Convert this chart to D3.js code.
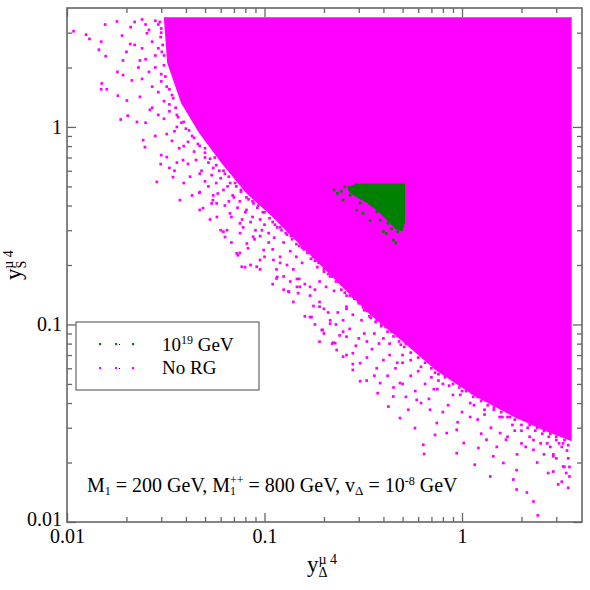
<!DOCTYPE html>
<html>
<head>
<meta charset="utf-8">
<script src="https://cdn.jsdelivr.net/npm/d3@7"></script>
<style>
  body { margin: 0; background: #fff; }
  text { font-family: "Liberation Serif", "Times New Roman", serif; fill: #000; }
</style>
</head>
<body>
<div id="chart"></div>
<script>
// ---- data ----
const majorTicks = [0.01, 0.1, 1];
const minorTicks = [0.02, 0.03, 0.04, 0.05, 0.06, 0.07, 0.08, 0.09,
                    0.2, 0.3, 0.4, 0.5, 0.6, 0.7, 0.8, 0.9, 2, 3];

// outline of the area that is (almost) completely covered by "No RG" points
const noRgRegion = [
  [0.0313, 3.55], [0.0325, 2.12], [0.0382, 1.33], [0.0471, 0.937], [0.061, 0.661],
  [0.0815, 0.466], [0.109, 0.358], [0.146, 0.267], [0.195, 0.2], [0.262, 0.149],
  [0.35, 0.1117], [0.497, 0.0836], [0.747, 0.0589], [1.16, 0.044], [1.79, 0.0349],
  [2.63, 0.0293], [3.55, 0.0261], [3.55, 3.55]
];

// individual "No RG" points outside that area
const noRgPoints = [
  [0.0108, 3.05], [0.0125, 2.93], [0.013, 2.79], [0.0156, 3.3], [0.0149, 2.7],
  [0.0145, 2.46], [0.0157, 2.28], [0.0149, 1.55], [0.0159, 1.55], [0.015, 1.66],
  [0.0187, 1.09], [0.0179, 3.42], [0.0285, 0.527], [0.0298, 0.648], [0.0248, 0.79],
  [0.0203, 1.14], [0.0226, 1.06], [0.0192, 1.83], [0.0201, 1.36], [0.0181, 1.44],
  [0.0213, 1.72], [0.0234, 2.17], [0.0209, 2.63], [0.0254, 2.98], [0.0192, 2.17],
  [0.0234, 1.42], [0.0263, 1.22], [0.0243, 0.857], [0.0344, 0.557], [0.0387, 0.679],
  [0.032, 0.703], [0.0373, 0.426], [0.0471, 0.468], [0.0488, 0.388], [0.0548, 0.426],
  [0.0574, 0.35], [0.0646, 0.3], [0.0631, 0.277], [0.0752, 0.29], [0.0734, 0.224],
  [0.0825, 0.243], [0.0797, 0.195], [0.0949, 0.212], [0.116, 0.174], [0.133, 0.146],
  [0.146, 0.155], [0.0468, 0.464], [0.054, 0.41], [0.0619, 0.295], [0.0723, 0.229],
  [0.0767, 0.196], [0.0913, 0.196], [0.115, 0.171], [0.132, 0.147], [0.148, 0.144],
  [0.17, 0.109], [0.195, 0.0938], [0.228, 0.0804], [0.232, 0.0743], [0.305, 0.0637],
  [0.177, 0.124], [0.146, 0.17], [0.099, 0.238], [0.0876, 0.278], [0.0751, 0.325],
  [0.0669, 0.365], [0.0572, 0.41], [0.0814, 0.257], [0.111, 0.212], [0.125, 0.175],
  [0.151, 0.155], [0.19, 0.123], [0.215, 0.101], [0.26, 0.0867], [0.28, 0.0715],
  [0.173, 0.109], [0.197, 0.0938], [0.223, 0.0809], [0.25, 0.092], [0.329, 0.052],
  [0.374, 0.0449], [0.424, 0.0384], [0.485, 0.0336], [0.535, 0.037], [0.578, 0.0299],
  [0.637, 0.0246], [0.643, 0.0221], [0.73, 0.0276], [0.94, 0.0223], [1.16, 0.0195],
  [1.21, 0.0237], [1.62, 0.0199], [1.82, 0.0164], [1.89, 0.0146], [2.13, 0.0141],
  [2.3, 0.0127], [2.42, 0.0108], [3.07, 0.0155], [3.45, 0.0149], [3.25, 0.0191],
  [2.73, 0.0177], [1.89, 0.0183], [1.44, 0.0215], [1.02, 0.0251], [0.836, 0.0282],
  [0.94, 0.0293], [1.33, 0.0261], [1.67, 0.0261], [2.3, 0.0232], [2.9, 0.0215],
  [3.37, 0.0177], [1.39, 0.017], [1.56, 0.0282], [0.385, 0.0505], [0.449, 0.0432],
  [0.485, 0.0505], [0.59, 0.0415], [0.689, 0.037], [0.745, 0.0317], [0.305, 0.0516],
  [0.28, 0.0589], [0.25, 0.0687], [0.19, 0.0818], [0.215, 0.105], [0.26, 0.123],
  [0.022, 3.4], [0.025, 3.3], [0.028, 3.45], [0.024, 2.5], [0.028, 2.3],
  [0.026, 1.9], [0.03, 1.7], [0.023, 2.0], [0.029, 1.5], [0.033, 1.3],
  [0.027, 1.25], [0.031, 1.1], [0.036, 1.0], [0.034, 0.85], [0.039, 0.8],
  [0.044, 0.75], [0.05, 0.7], [0.041, 0.65], [0.055, 0.62], [0.047, 0.58],
  [0.06, 0.55], [0.052, 0.5], [0.065, 0.5], [0.058, 0.46], [0.07, 0.44],
  [0.063, 0.4], [0.075, 0.42], [0.08, 0.37], [0.068, 0.35], [0.085, 0.33],
  [0.09, 0.3], [0.078, 0.31], [0.095, 0.28], [0.1, 0.32], [0.105, 0.26],
  [0.11, 0.24], [0.12, 0.22], [0.1, 0.22], [0.13, 0.2], [0.14, 0.19],
  [0.115, 0.19], [0.15, 0.17], [0.16, 0.16], [0.135, 0.165], [0.17, 0.14],
  [0.18, 0.15], [0.19, 0.13], [0.2, 0.12], [0.21, 0.115], [0.23, 0.1],
  [0.25, 0.105], [0.27, 0.095], [0.24, 0.088], [0.3, 0.085], [0.32, 0.09],
  [0.29, 0.078], [0.35, 0.075], [0.38, 0.08], [0.33, 0.068], [0.4, 0.066],
  [0.43, 0.07], [0.37, 0.06], [0.46, 0.06], [0.5, 0.064], [0.42, 0.055],
  [0.55, 0.055], [0.6, 0.058], [0.5, 0.05], [0.65, 0.05], [0.7, 0.054],
  [0.58, 0.046], [0.75, 0.047], [0.8, 0.05], [0.68, 0.042], [0.9, 0.044],
  [1.0, 0.046], [0.85, 0.039], [1.1, 0.04], [1.2, 0.043], [1.0, 0.036],
  [1.3, 0.037], [1.45, 0.038], [1.2, 0.033], [1.6, 0.034], [1.8, 0.031],
  [1.4, 0.03], [2.0, 0.029], [2.2, 0.027], [1.7, 0.027], [2.5, 0.025],
  [2.8, 0.024], [3.1, 0.025], [3.4, 0.023], [2.1, 0.024], [2.6, 0.022],
  [3.0, 0.021], [3.3, 0.019], [2.4, 0.02], [1.9, 0.022], [3.5, 0.017],
  [2.9, 0.018], [3.2, 0.016], [1.5, 0.024], [1.25, 0.028], [0.95, 0.032],
  [0.8, 0.036], [0.62, 0.04], [0.52, 0.043], [0.45, 0.048], [0.36, 0.055],
  [0.28, 0.063], [0.26, 0.07], [0.22, 0.08], [0.2, 0.09], [0.18, 0.1],
  [0.16, 0.11], [0.14, 0.13], [0.125, 0.15], [0.11, 0.16], [0.095, 0.19],
  [0.085, 0.2], [0.075, 0.23], [0.068, 0.26], [0.06, 0.3], [0.053, 0.34],
  [0.047, 0.38], [0.043, 0.45], [0.039, 0.52], [0.035, 0.6], [0.03, 0.72],
  [0.028, 0.9], [0.025, 1.05],
  [0.021, 3.2], [0.024, 3.5], [0.026, 3.1], [0.029, 3.3], [0.03, 3.0],
  [0.027, 2.7], [0.029, 2.5], [0.025, 2.2], [0.031, 2.3], [0.028, 2.0],
  [0.03, 1.85], [0.032, 1.6], [0.034, 1.45], [0.027, 1.6], [0.031, 1.35],
  [0.024, 1.75], [0.022, 2.6], [0.019, 2.9], [0.02, 2.4], [0.018, 1.9],
  [0.033, 1.2], [0.036, 1.15], [0.038, 1.05], [0.029, 1.15], [0.035, 0.95],
  [0.04, 0.98], [0.043, 0.9], [0.032, 0.92], [0.037, 0.78], [0.041, 0.84],
  [0.046, 0.82], [0.05, 0.78], [0.045, 0.68], [0.052, 0.66], [0.056, 0.7],
  [0.048, 0.6], [0.042, 0.56], [0.036, 0.66], [0.033, 0.62], [0.054, 0.57],
  [0.059, 0.6], [0.063, 0.58], [0.067, 0.52], [0.072, 0.5], [0.062, 0.48],
  [0.057, 0.52], [0.05, 0.53], [0.076, 0.47], [0.069, 0.45], [0.055, 0.45],
  [0.083, 0.43], [0.088, 0.41], [0.092, 0.39], [0.098, 0.37], [0.081, 0.38],
  [0.073, 0.39], [0.066, 0.42], [0.087, 0.35], [0.077, 0.34], [0.095, 0.34],
  [0.11, 0.33], [0.116, 0.31], [0.122, 0.3], [0.13, 0.285], [0.105, 0.29],
  [0.097, 0.3], [0.112, 0.275], [0.125, 0.26], [0.089, 0.27], [0.138, 0.27],
  [0.15, 0.25], [0.158, 0.24], [0.165, 0.23], [0.172, 0.215], [0.18, 0.21],
  [0.145, 0.22], [0.135, 0.235], [0.155, 0.205], [0.12, 0.205], [0.185, 0.195],
  [0.2, 0.19], [0.21, 0.18], [0.22, 0.175], [0.235, 0.165], [0.245, 0.16],
  [0.19, 0.165], [0.205, 0.155], [0.225, 0.148], [0.17, 0.155], [0.255, 0.145],
  [0.27, 0.14], [0.285, 0.135], [0.3, 0.128], [0.315, 0.122], [0.33, 0.117],
  [0.26, 0.12], [0.28, 0.112], [0.31, 0.105], [0.235, 0.115], [0.345, 0.108],
  [0.37, 0.105], [0.39, 0.1], [0.41, 0.097], [0.44, 0.092], [0.47, 0.088],
  [0.36, 0.09], [0.4, 0.085], [0.43, 0.08], [0.33, 0.082], [0.49, 0.079],
  [0.52, 0.08], [0.56, 0.077], [0.6, 0.072], [0.64, 0.068], [0.7, 0.063],
  [0.5, 0.07], [0.55, 0.066], [0.62, 0.061], [0.47, 0.064], [0.73, 0.057],
  [0.78, 0.058], [0.83, 0.056], [0.88, 0.054], [0.95, 0.051], [1.05, 0.048],
  [0.76, 0.052], [0.86, 0.049], [0.98, 0.044], [0.72, 0.047], [1.12, 0.045],
  [1.2, 0.045], [1.28, 0.043], [1.38, 0.041], [1.5, 0.04], [1.65, 0.037],
  [1.15, 0.039], [1.3, 0.035], [1.55, 0.034], [1.1, 0.034], [1.75, 0.034],
  [1.9, 0.034], [2.05, 0.033], [2.2, 0.031], [2.4, 0.03], [2.6, 0.029],
  [2.8, 0.028], [3.0, 0.027], [3.3, 0.026], [1.85, 0.029], [2.3, 0.026],
  [2.7, 0.025], [3.2, 0.024], [3.45, 0.021], [2.0, 0.025], [2.9, 0.022],
  [3.5, 0.019],
  [0.0295, 3.4], [0.03, 3.15], [0.0298, 2.85], [0.0305, 2.6], [0.0302, 2.4],
  [0.031, 2.05], [0.0315, 1.8], [0.033, 1.55], [0.0345, 1.4], [0.0355, 1.25],
  [0.0365, 1.12], [0.039, 1.06], [0.0415, 0.96], [0.044, 0.88], [0.047, 0.8],
  [0.05, 0.74], [0.053, 0.69], [0.057, 0.64], [0.062, 0.6], [0.066, 0.56],
  [0.071, 0.52], [0.076, 0.48], [0.081, 0.44], [0.087, 0.42], [0.093, 0.4],
  [0.1, 0.37], [0.106, 0.345], [0.113, 0.32], [0.12, 0.31], [0.128, 0.29],
  [0.136, 0.28], [0.145, 0.255], [0.155, 0.245], [0.165, 0.235], [0.176, 0.22],
  [0.188, 0.205], [0.2, 0.185], [0.215, 0.175], [0.23, 0.165], [0.245, 0.15],
  [0.26, 0.14], [0.28, 0.138], [0.3, 0.13], [0.32, 0.118], [0.34, 0.11],
  [0.365, 0.103], [0.39, 0.098], [0.42, 0.092], [0.45, 0.087], [0.48, 0.082],
  [0.51, 0.077], [0.55, 0.072], [0.6, 0.068], [0.65, 0.064], [0.7, 0.06],
  [0.76, 0.056], [0.82, 0.054], [0.9, 0.05], [0.97, 0.048], [1.05, 0.046],
  [1.14, 0.043], [1.25, 0.041], [1.35, 0.039], [1.45, 0.037], [1.58, 0.036],
  [1.7, 0.034], [1.85, 0.033], [2.0, 0.031], [2.15, 0.03], [2.35, 0.029],
  [2.55, 0.028], [2.75, 0.027], [3.0, 0.026], [3.25, 0.025], [3.45, 0.0245]
];

// outline of the dense "10^19 GeV" cluster
const rg19Region = [
  [0.305, 0.513], [0.51, 0.513], [0.51, 0.33], [0.497, 0.30], [0.463, 0.307],
  [0.422, 0.337], [0.376, 0.379], [0.33, 0.416], [0.297, 0.441], [0.271, 0.468],
  [0.265, 0.496]
];

const rg19Points = [
  [0.225, 0.479], [0.234, 0.461], [0.245, 0.473], [0.255, 0.497], [0.25, 0.426],
  [0.291, 0.51], [0.293, 0.379], [0.316, 0.365], [0.342, 0.335], [0.37, 0.372],
  [0.4, 0.295], [0.414, 0.289], [0.449, 0.267], [0.462, 0.259], [0.473, 0.295],
  [0.385, 0.337], [0.305, 0.412], [0.271, 0.451], [0.422, 0.325], [0.495, 0.305],
  [0.44, 0.305]
];

const legendLabels = ["10", "No RG"];

// ---- chart ----
const W = 590, H = 590;
const margin = { top: 8, right: 8, bottom: 68, left: 67 };
const width = W - margin.left - margin.right;
const height = H - margin.top - margin.bottom;
const frameColor = "#666";

const svg = d3.select("#chart").append("svg")
  .attr("width", W)
  .attr("height", H);

const g = svg.append("g")
  .attr("transform", "translate(" + margin.left + "," + margin.top + ")");

const x = d3.scaleLog().domain([0.01, 4.05]).range([0, width]);
const y = d3.scaleLog().domain([0.01, 4.0]).range([height, 0]);

g.append("clipPath").attr("id", "plotclip")
  .append("rect").attr("width", width).attr("height", height);

const plot = g.append("g").attr("clip-path", "url(#plotclip)");

const outline = d3.line().x(d => x(d[0])).y(d => y(d[1])).curve(d3.curveLinearClosed);
const ptSize = 2.7;

// No RG
plot.append("path")
  .datum(noRgRegion)
  .attr("d", outline)
  .attr("fill", "#ff00ff")
  .attr("stroke", "#ff00ff")
  .attr("stroke-width", 2);

plot.append("g").selectAll("rect")
  .data(noRgPoints)
  .join("rect")
  .attr("x", d => x(d[0]) - ptSize / 2)
  .attr("y", d => y(d[1]) - ptSize / 2)
  .attr("width", ptSize)
  .attr("height", ptSize)
  .attr("fill", "#ff00ff");

// 10^19 GeV
plot.append("path")
  .datum(rg19Region)
  .attr("d", outline)
  .attr("fill", "#008000")
  .attr("stroke", "#008000")
  .attr("stroke-width", 1.5);

plot.append("g").selectAll("rect")
  .data(rg19Points)
  .join("rect")
  .attr("x", d => x(d[0]) - ptSize / 2)
  .attr("y", d => y(d[1]) - ptSize / 2)
  .attr("width", ptSize)
  .attr("height", ptSize)
  .attr("fill", "#008000");

// axes, ticks pointing inward on all four sides
const fmt = d3.format("~g");

function styleAxis(sel) {
  sel.select(".domain").remove();
  sel.selectAll(".tick line").attr("stroke", frameColor).attr("stroke-width", 1.3);
  sel.selectAll(".tick text")
    .style("font-family", "'Liberation Serif', serif")
    .style("font-size", "20px")
    .attr("fill", "#000");
}

g.append("g").attr("transform", "translate(0," + height + ")")
  .call(d3.axisBottom(x).tickValues(majorTicks).tickSize(-9).tickPadding(7).tickFormat(fmt))
  .call(styleAxis);
g.append("g").attr("transform", "translate(0," + height + ")")
  .call(d3.axisBottom(x).tickValues(minorTicks).tickSize(-5).tickFormat(""))
  .call(styleAxis);
g.append("g")
  .call(d3.axisTop(x).tickValues(majorTicks).tickSize(-9).tickFormat(""))
  .call(styleAxis);
g.append("g")
  .call(d3.axisTop(x).tickValues(minorTicks).tickSize(-5).tickFormat(""))
  .call(styleAxis);

g.append("g")
  .call(d3.axisLeft(y).tickValues(majorTicks).tickSize(-9).tickPadding(5).tickFormat(fmt))
  .call(styleAxis)
  .selectAll(".tick text").attr("dy", d => d === 0.01 ? "0.15em" : "0.32em");
g.append("g")
  .call(d3.axisLeft(y).tickValues(minorTicks).tickSize(-5).tickFormat(""))
  .call(styleAxis);
g.append("g").attr("transform", "translate(" + width + ",0)")
  .call(d3.axisRight(y).tickValues(majorTicks).tickSize(-9).tickFormat(""))
  .call(styleAxis);
g.append("g").attr("transform", "translate(" + width + ",0)")
  .call(d3.axisRight(y).tickValues(minorTicks).tickSize(-5).tickFormat(""))
  .call(styleAxis);

g.append("rect")
  .attr("width", width)
  .attr("height", height)
  .attr("fill", "none")
  .attr("stroke", frameColor)
  .attr("stroke-width", 1.6);

// legend
const legend = g.append("g").attr("transform", "translate(9,314)");
legend.append("rect")
  .attr("width", 183)
  .attr("height", 68)
  .attr("fill", "#fff")
  .attr("stroke", frameColor)
  .attr("stroke-width", 1.2);

[["#008000", 22], ["#ff00ff", 46]].forEach(([col, yy]) => {
  legend.selectAll(null)
    .data([24, 40, 57])
    .join("rect")
    .attr("x", d => d - 1)
    .attr("y", yy - 1)
    .attr("width", 2.2)
    .attr("height", 2.2)
    .attr("fill", col);
  legend.append("rect")
    .attr("x", 43).attr("y", yy).attr("width", 1).attr("height", 1).attr("fill", "#000");
});

const l1 = legend.append("text").attr("x", 86).attr("y", 29).style("font-size", "19px");
l1.append("tspan").text(legendLabels[0]);
l1.append("tspan").attr("dy", -7).style("font-size", "12px").text("19");
l1.append("tspan").attr("dy", 7).text(" GeV");

legend.append("text").attr("x", 86).attr("y", 52).style("font-size", "19px").text(legendLabels[1]);

// annotation
const note = g.append("text").attr("x", 20).attr("y", 484).style("font-size", "20px");
note.append("tspan").text("M");
note.append("tspan").attr("dy", 3).style("font-size", "12px").text("1");
note.append("tspan").attr("dy", -3).text(" = 200 GeV, M");
note.append("tspan").attr("dy", 3).style("font-size", "12px").text("1");
note.append("tspan").attr("dx", -6).attr("dy", -11).style("font-size", "12px").text("++");
note.append("tspan").attr("dy", 8).text(" = 800 GeV, v");
note.append("tspan").attr("dy", 3).style("font-size", "13px").text("\u0394");
note.append("tspan").attr("dy", -3).text(" = 10");
note.append("tspan").attr("dy", -7).style("font-size", "12px").text("-8");
note.append("tspan").attr("dy", 7).text(" GeV");

// axis titles
const xt = svg.append("text").attr("x", 307).attr("y", 572).style("font-size", "23px");
xt.append("tspan").text("y");
xt.append("tspan").attr("dy", 5).style("font-size", "14px").text("\u0394");
xt.append("tspan").attr("dx", -9).attr("dy", -13).style("font-size", "14px").text("\u00b5 4");

const yt = svg.append("text")
  .attr("transform", "translate(21,280) rotate(-90)")
  .style("font-size", "23px");
yt.append("tspan").text("y");
yt.append("tspan").attr("dy", 5).style("font-size", "14px").text("S");
yt.append("tspan").attr("dx", -8).attr("dy", -13).style("font-size", "14px").text("\u00b5 4");
</script>
</body>
</html>
